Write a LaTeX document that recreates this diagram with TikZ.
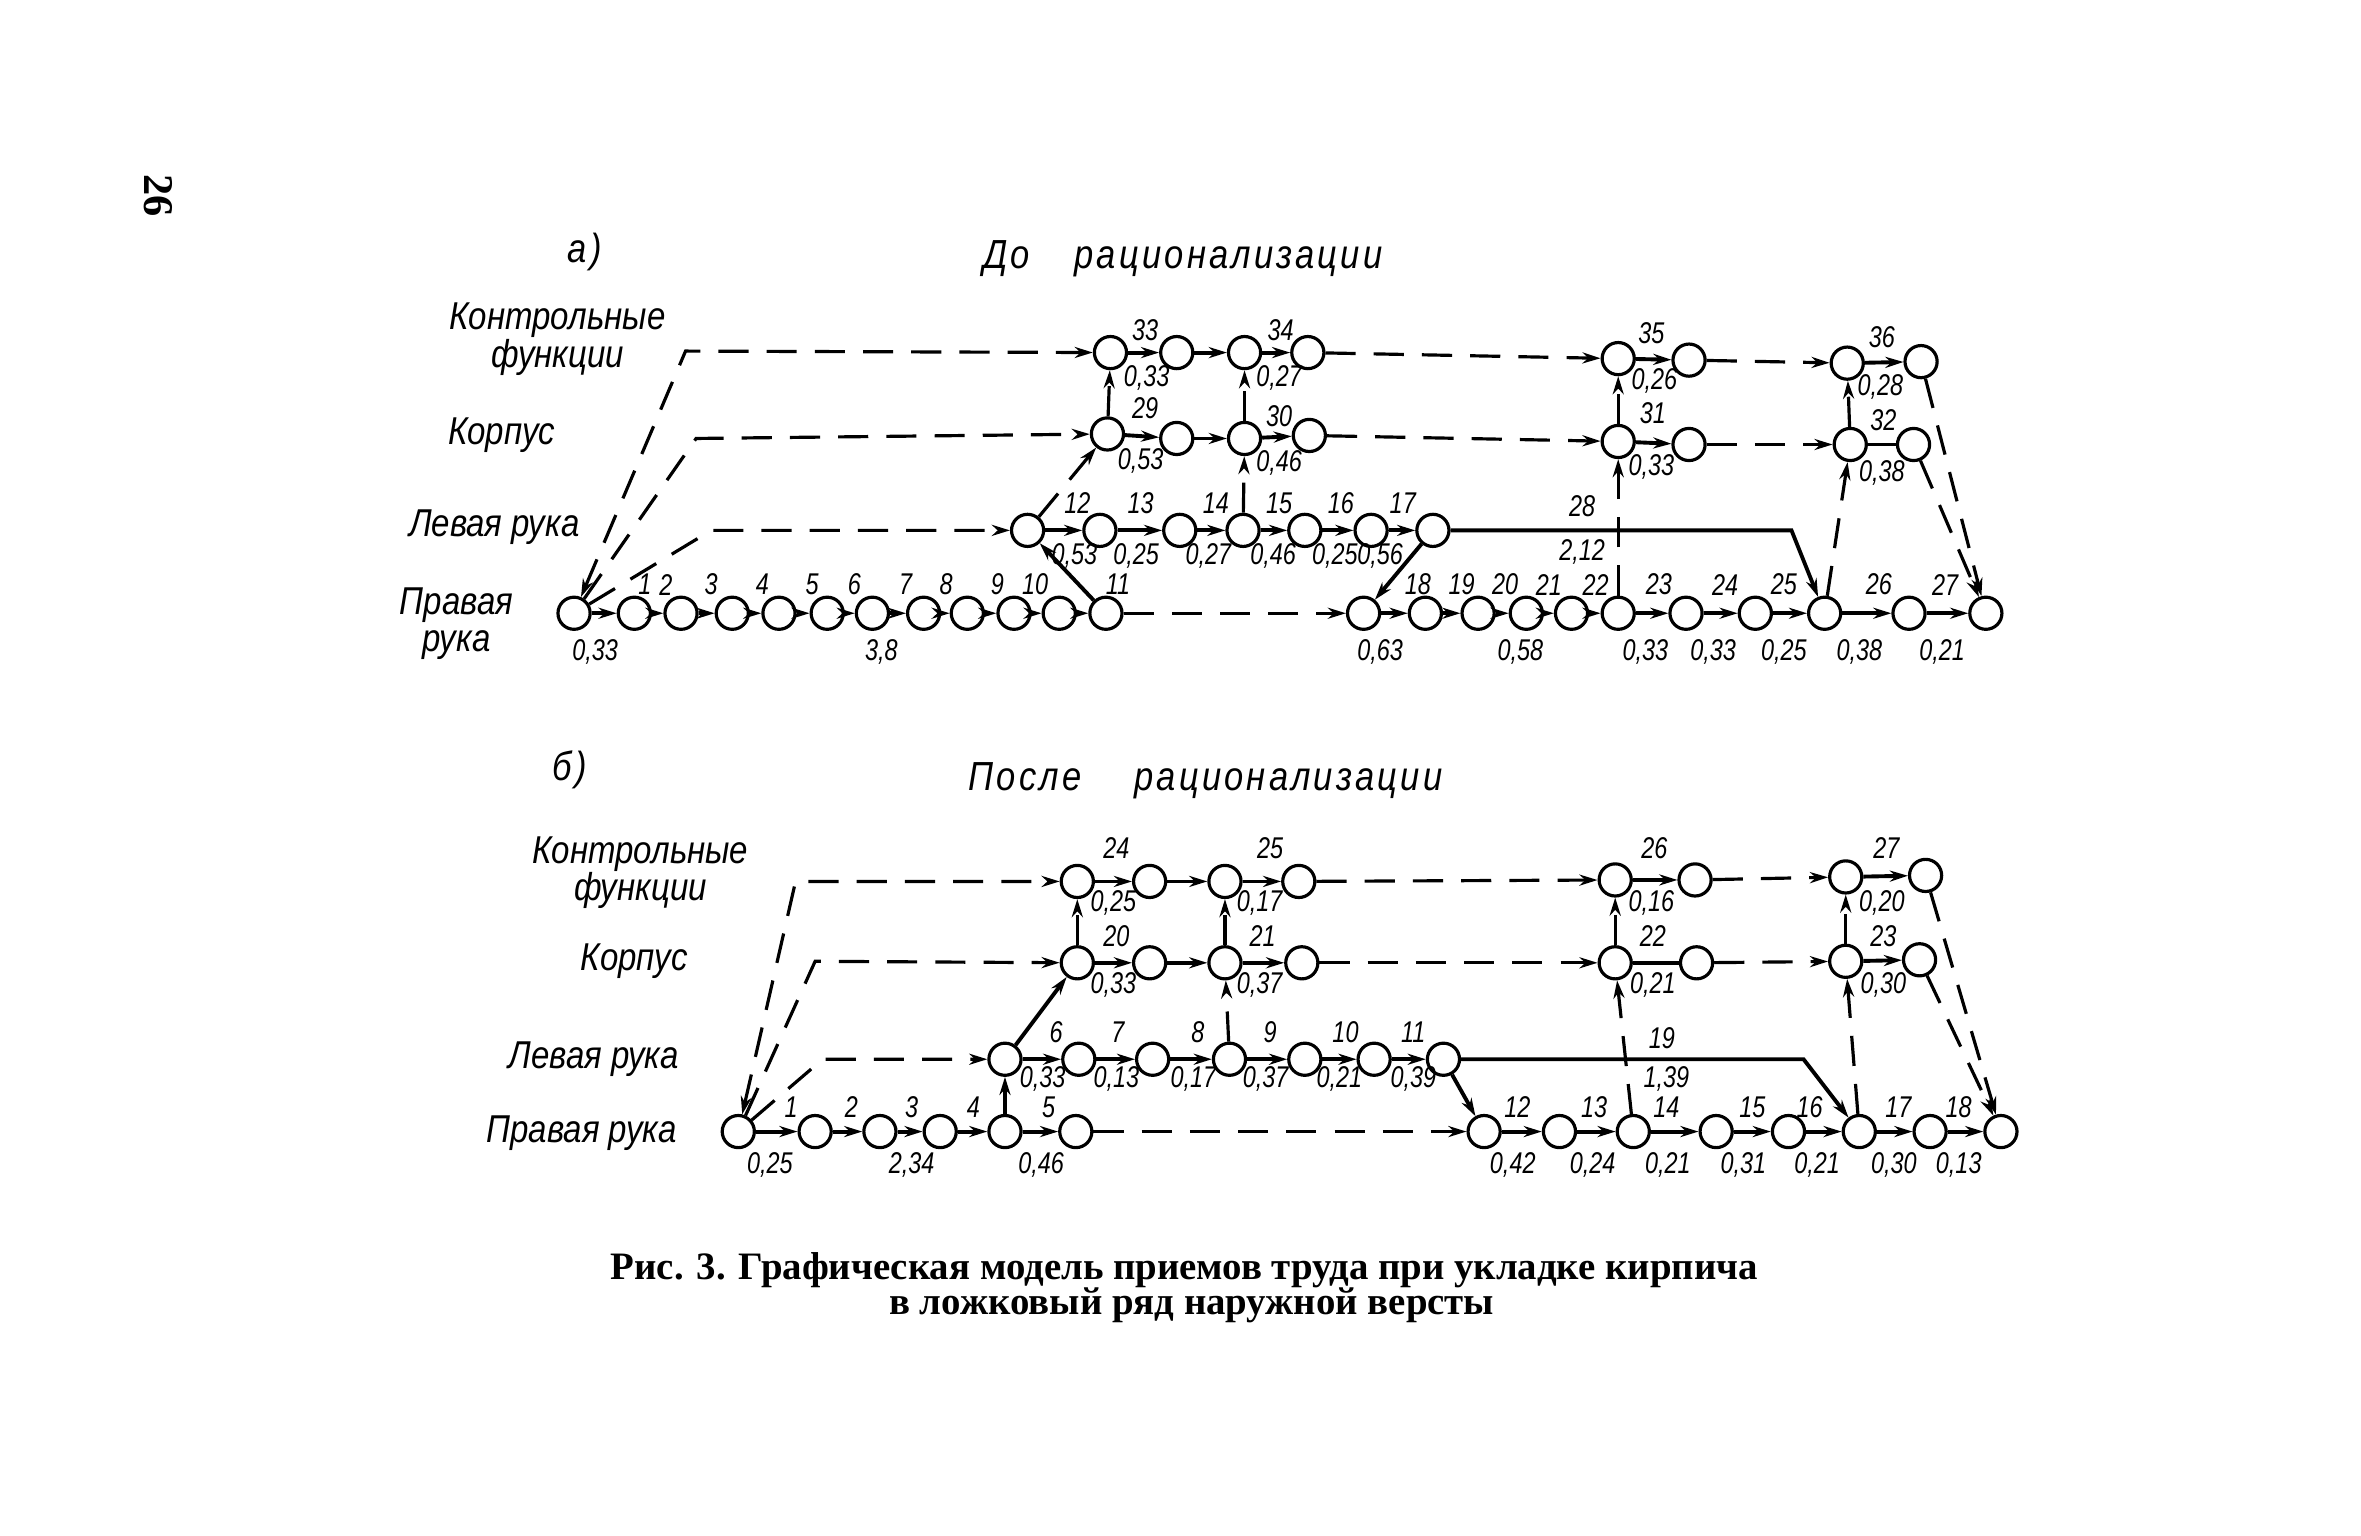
\documentclass[tikz,border=0pt]{standalone}
\usepackage{fontspec}
\setmainfont{Liberation Serif}
\newfontfamily\gost[FakeStretch=0.85]{Liberation Sans}
\newfontfamily\gostnum[FakeStretch=0.78]{Liberation Sans}
\newfontfamily\gostwide[FakeStretch=0.85, LetterSpace=8]{Liberation Sans}
\usetikzlibrary{arrows.meta}

\tikzset{
  event/.style={draw, circle, line width=0.9pt, minimum size=0.32cm, inner sep=0pt},
  num/.style={font=\gostnum\itshape\fontsize{8.5}{9}\selectfont, inner sep=0pt},
  rowname/.style={font=\gost\itshape\fontsize{11}{10.6}\selectfont, inner sep=0pt, align=center},
  heading/.style={font=\gostwide\itshape\fontsize{11.5}{12}\selectfont, inner sep=0pt},
  caption/.style={font=\bfseries\fontsize{11}{11}\selectfont, inner sep=0pt},
  work/.style={->, line width=1.1pt},
  wait/.style={->, line width=0.9pt, dash pattern=on 3mm off 1.8mm},
}

\begin{document}
\begin{tikzpicture}[x=0.015cm, y=-0.015cm, >={Stealth[length=1.8mm, width=1.1mm]}]
\useasboundingbox (0,0) rectangle (1567,1019);

% page number
\node [rotate=-90, font=\bfseries\fontsize{12}{12}\selectfont] (page) at (105,130) {26};

% headings
\node [heading] (tag-a) at (388,167) {а)};
\node [heading] (title-a) at (785,172) {До\hspace{1.1em}рационализации};
\node [heading] (tag-b) at (378,511) {б)};
\node [heading] (title-b) at (800,518) {После\hspace{1.3em}рационализации};

% row names, before
\node [rowname] (name-ca) at (370,225) {Контрольные\\функции};
\node [rowname] (name-ka) at (333,289) {Корпус};
\node [rowname] (name-la) at (328,350) {Левая рука};
\node [rowname] (name-ra) at (303,414) {Правая\\рука};

% row names, after
\node [rowname] (name-cb) at (425,579) {Контрольные\\функции};
\node [rowname] (name-kb) at (421,638) {Корпус};
\node [rowname] (name-lb) at (394,703) {Левая рука};
\node [rowname] (name-rb) at (386,752) {Правая рука};

%%%%%%%% a) before

% right hand
\foreach \n/\x in {0/381,1/421,2/452,3/486,4/517,5/549,6/579,7/613,8/642,9/673,10/703,11/734,12/905,13/946,14/981,15/1013,16/1043,17/1074,18/1119,19/1165,20/1211,21/1267,22/1318}
  \node [event] (ra-\n) at (\x,407) {};

% left hand
\foreach \n/\x in {0/682,1/730,2/783,3/825,4/866,5/910,6/951}
  \node [event] (la-\n) at (\x,352) {};

% body
\foreach \n/\x/\y in {0/735/288,1/781/291,2/826/291,3/869/289,4/1074/293,5/1121/295,6/1228/295,7/1270/295}
  \node [event] (ka-\n) at (\x,\y) {};

% control functions
\foreach \n/\x/\y in {0/737/234,1/781/234,2/826/234,3/868/234,4/1074/238,5/1121/239,6/1226/241,7/1275/240}
  \node [event] (ca-\n) at (\x,\y) {};

\coordinate (ca-bend) at (455,233);
\coordinate (ka-bend) at (462,291);
\coordinate (la-bend) at (472,352);
\coordinate (la-turn) at (1189,352);

% arrows along the rows
\foreach \i [count=\j from 1] in {0,...,10}
  \draw [work] (ra-\i) -- (ra-\j);
\foreach \i [count=\j from 13] in {12,...,21}
  \draw [work] (ra-\i) -- (ra-\j);
\foreach \i [count=\j from 1] in {0,...,5}
  \draw [work] (la-\i) -- (la-\j);
\foreach \i/\j in {0/1,1/2,2/3,4/5}
  \draw [work] (ka-\i) -- (ka-\j);
\foreach \i/\j in {0/1,1/2,2/3,4/5,6/7}
  \draw [work] (ca-\i) -- (ca-\j);
\draw [work, -] (ka-6) -- (ka-7);

% waiting
\draw [wait] (ra-11) -- (ra-12);
\foreach \i/\j in {3/4,5/6}
  \draw [wait] (ka-\i) -- (ka-\j);
\foreach \i/\j in {3/4,5/6}
  \draw [wait] (ca-\i) -- (ca-\j);

% from the start
\draw [wait, <->] (ra-0) -- (ca-bend) -- (ca-0);
\draw [wait] (ra-0) -- (ka-bend) -- (ka-0);
\draw [wait] (ra-0) -- (la-bend) -- (la-0);

% between the rows
\draw [work] (ra-11) -- (la-0);
\draw [work] (la-6) -- (ra-12);
\draw [work] (la-6) -- (la-turn) -- (ra-20);
\draw [wait] (la-0) -- (ka-0);
\draw [wait] (ka-0) -- (ca-0);
\draw [wait] (la-3) -- (ka-2);
\draw [wait] (ka-2) -- (ca-2);
\draw [wait] (ra-17) -- (ka-4);
\draw [wait] (ka-4) -- (ca-4);
\draw [wait] (ra-20) -- (ka-6);
\draw [wait] (ka-6) -- (ca-6);
\draw [wait] (ca-7) -- (ra-22);
\draw [wait] (ka-7) -- (ra-22);

% labels
\foreach \t/\x [count=\i] in {1/428,2/442,3/472,4/506,5/539,6/567,7/601,8/628,9/662,10/687,11/742,18/941,19/970,20/999,21/1028,22/1059,23/1101,24/1145,25/1184,26/1247,27/1291}
  \node [num] (ra-op-\i) at (\x,388) {\t};
\foreach \t/\x [count=\i] in {{0,33}/395,{3,8}/585,{0,63}/916,{0,58}/1009,{0,33}/1092,{0,33}/1137,{0,25}/1184,{0,38}/1234,{0,21}/1289}
  \node [num] (ra-time-\i) at (\x,433) {\t};
\foreach \t/\x [count=\i] in {12/715,13/757,14/807,15/849,16/890,17/931}
  \node [num] (la-op-\i) at (\x,334) {\t};
\foreach \t/\x [count=\i] in {{0,53}/713,{0,25}/754,{0,27}/802,{0,46}/845,{0,25}/886,{0,56}/916}
  \node [num] (la-time-\i) at (\x,369) {\t};
\node [num] (la-op-long) at (1050,336) {28};
\node [num] (la-time-long) at (1050,366) {2,12};
\foreach \t/\x/\y [count=\i] in {29/760/271,30/849/276,31/1097/274,32/1250/279}
  \node [num] (ka-op-\i) at (\x,\y) {\t};
\foreach \t/\x/\y [count=\i] in {{0,53}/757/306,{0,46}/849/307,{0,33}/1096/310,{0,38}/1249/314}
  \node [num] (ka-time-\i) at (\x,\y) {\t};
\foreach \t/\x/\y [count=\i] in {33/760/219,34/850/219,35/1096/221,36/1249/224}
  \node [num] (ca-op-\i) at (\x,\y) {\t};
\foreach \t/\x/\y [count=\i] in {{0,33}/761/251,{0,27}/849/251,{0,26}/1098/253,{0,28}/1248/257}
  \node [num] (ca-time-\i) at (\x,\y) {\t};

%%%%%%%% b) after

% right hand
\foreach \n/\x in {0/490,1/541,2/584,3/624,4/667,5/714,6/985,7/1035,8/1084,9/1139,10/1187,11/1234,12/1281,13/1328}
  \node [event] (rb-\n) at (\x,751) {};

% left hand
\foreach \n/\x in {0/667,1/716,2/765,3/816,4/866,5/912,6/958}
  \node [event] (lb-\n) at (\x,703) {};

% body
\foreach \n/\x/\y in {0/715/639,1/763/639,2/813/639,3/864/639,4/1072/639,5/1126/639,6/1225/638,7/1274/637}
  \node [event] (kb-\n) at (\x,\y) {};

% control functions
\foreach \n/\x/\y in {0/715/585,1/763/585,2/813/585,3/862/585,4/1072/584,5/1125/584,6/1225/582,7/1278/581}
  \node [event] (cb-\n) at (\x,\y) {};

\coordinate (cb-bend) at (528,585);
\coordinate (kb-bend) at (541,638);
\coordinate (lb-bend) at (546,703);
\coordinate (lb-turn) at (1197,703);

% arrows along the rows
\foreach \i [count=\j from 1] in {0,...,4}
  \draw [work] (rb-\i) -- (rb-\j);
\foreach \i [count=\j from 7] in {6,...,12}
  \draw [work] (rb-\i) -- (rb-\j);
\foreach \i [count=\j from 1] in {0,...,5}
  \draw [work] (lb-\i) -- (lb-\j);
\foreach \i/\j in {0/1,1/2,2/3,6/7}
  \draw [work] (kb-\i) -- (kb-\j);
\foreach \i/\j in {0/1,1/2,2/3,4/5,6/7}
  \draw [work] (cb-\i) -- (cb-\j);
\draw [work, -] (kb-4) -- (kb-5);

% waiting
\draw [wait] (rb-5) -- (rb-6);
\foreach \i/\j in {3/4,5/6}
  \draw [wait] (kb-\i) -- (kb-\j);
\foreach \i/\j in {3/4,5/6}
  \draw [wait] (cb-\i) -- (cb-\j);

% from the start
\draw [wait, <->] (rb-0) -- (cb-bend) -- (cb-0);
\draw [wait] (rb-0) -- (kb-bend) -- (kb-0);
\draw [wait] (rb-0) -- (lb-bend) -- (lb-0);

% between the rows
\draw [work] (rb-4) -- (lb-0);
\draw [work] (lb-0) -- (kb-0);
\draw [work] (lb-6) -- (rb-6);
\draw [work] (lb-6) -- (lb-turn) -- (rb-11);
\draw [wait] (kb-0) -- (cb-0);
\draw [wait] (lb-3) -- (kb-2);
\draw [wait] (kb-2) -- (cb-2);
\draw [wait] (rb-8) -- (kb-4);
\draw [wait] (kb-4) -- (cb-4);
\draw [wait] (rb-11) -- (kb-6);
\draw [wait] (kb-6) -- (cb-6);
\draw [wait] (cb-7) -- (rb-13);
\draw [wait] (kb-7) -- (rb-13);

% labels
\foreach \t/\x [count=\i] in {1/525,2/565,3/605,4/646,5/696,12/1007,13/1058,14/1106,15/1163,16/1201,17/1260,18/1300}
  \node [num] (rb-op-\i) at (\x,735) {\t};
\foreach \t/\x [count=\i] in {{0,25}/511,{2,34}/605,{0,46}/691,{0,42}/1004,{0,24}/1057,{0,21}/1107,{0,31}/1157,{0,21}/1206,{0,30}/1257,{0,13}/1300}
  \node [num] (rb-time-\i) at (\x,773) {\t};
\foreach \t/\x [count=\i] in {6/701,7/742,8/795,9/843,10/893,11/938}
  \node [num] (lb-op-\i) at (\x,685) {\t};
\foreach \t/\x [count=\i] in {{0,33}/692,{0,13}/741,{0,17}/792,{0,37}/840,{0,21}/889,{0,39}/938}
  \node [num] (lb-time-\i) at (\x,716) {\t};
\node [num] (lb-op-long) at (1103,689) {19};
\node [num] (lb-time-long) at (1106,716) {1,39};
\foreach \t/\x [count=\i] in {20/741,21/838,22/1097,23/1250}
  \node [num] (kb-op-\i) at (\x,621) {\t};
\foreach \t/\x [count=\i] in {{0,33}/739,{0,37}/836,{0,21}/1097,{0,30}/1250}
  \node [num] (kb-time-\i) at (\x,654) {\t};
\foreach \t/\x [count=\i] in {24/741,25/843,26/1098,27/1252}
  \node [num] (cb-op-\i) at (\x,563) {\t};
\foreach \t/\x [count=\i] in {{0,25}/739,{0,17}/836,{0,16}/1096,{0,20}/1249}
  \node [num] (cb-time-\i) at (\x,599) {\t};

% caption
\node [caption] (cap-1) at (786,843) {Рис. 3. Графическая модель приемов труда при укладке кирпича};
\node [caption] (cap-2) at (791,866) {в ложковый ряд наружной версты};

\end{tikzpicture}
\end{document}
